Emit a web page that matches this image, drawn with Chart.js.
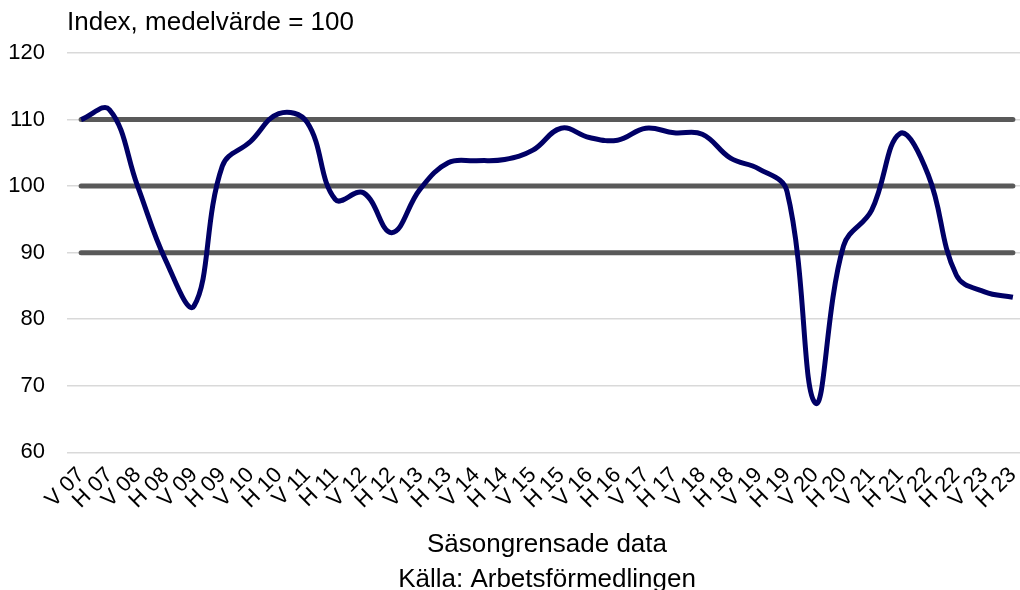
<!DOCTYPE html>
<html>
<head>
<meta charset="utf-8">
<script src="https://cdn.jsdelivr.net/npm/chart.js@4"></script>
<style>
  html, body { margin: 0; padding: 0; overflow: hidden; background: #fff; }
  #wrap { width: 1034px; height: 590px; }
</style>
</head>
<body>
<div id="wrap"><canvas id="myChart"></canvas></div>
<script>
// Data
var labels = ["V 07","H 07","V 08","H 08","V 09","H 09","V 10","H 10","V 11","H 11",
  "V 12","H 12","V 13","H 13","V 14","H 14","V 15","H 15","V 16","H 16",
  "V 17","H 17","V 18","H 18","V 19","H 19","V 20","H 20","V 21","H 21",
  "V 22","H 22","V 23","H 23"];
var indexValues = [110, 111.5, 100, 88.8, 82, 103, 106.7, 110.9, 109.6, 98,
  99, 93, 99.5, 103.5, 103.8, 104, 105.4, 108.7, 107.3, 106.9,
  108.7, 108, 107.8, 104.2, 102.6, 99.2, 67.4, 91, 96.4, 107.9,
  101.7, 86.6, 84.1, 83.3];
var refLevels = [110, 100, 90];
var yTicks = { min: 60, max: 120, step: 10 };
var topTitle = "Index, medelvärde = 100";
var axisTitle = ["Säsongrensade data", "Källa: Arbetsförmedlingen"];

var FONT = "'Liberation Sans', Arial, sans-serif";

var refSets = refLevels.map(function (lvl) {
  return {
    data: labels.map(function () { return lvl; }),
    borderColor: "#595959",
    borderWidth: 5,
    borderCapStyle: "round",
    pointRadius: 0,
    tension: 0,
    order: 2
  };
});

// title drawn at the left edge of the plot area
var topTitlePlugin = {
  id: "topTitle",
  afterDraw: function (chart) {
    var ctx = chart.ctx;
    ctx.save();
    ctx.font = "26px " + FONT;
    ctx.fillStyle = "#000";
    ctx.textBaseline = "middle";
    ctx.fillText(topTitle, chart.chartArea.left, 23);
    ctx.restore();
  }
};

new Chart("myChart", {
  type: "line",
  data: {
    labels: labels,
    datasets: refSets.concat([{
      data: indexValues,
      borderColor: "#000066",
      borderWidth: 5,
      pointRadius: 0,
      tension: 0.4,
      order: 1
    }])
  },
  plugins: [topTitlePlugin],
  options: {
    responsive: true,
    maintainAspectRatio: false,
    animation: false,
    layout: { padding: { top: 53, right: 7, left: 0, bottom: 0 } },
    plugins: {
      legend: { display: false },
      tooltip: { enabled: false }
    },
    scales: {
      x: {
        offset: true,
        grid: { display: false },
        border: { display: false },
        afterFit: function (scale) { scale.paddingLeft = 0; scale.paddingRight = 0; },
        ticks: {
          autoSkip: false,
          minRotation: 45,
          maxRotation: 45,
          color: "#000",
          padding: 2,
          font: { family: FONT, size: 22 }
        },
        title: {
          display: true,
          text: axisTitle,
          color: "#000",
          padding: { top: 11, bottom: -7 },
          font: { family: FONT, size: 26, lineHeight: 1.35 }
        }
      },
      y: {
        min: yTicks.min,
        max: yTicks.max,
        afterFit: function (scale) { scale.width = 67; },
        grid: { color: "#d9d9d9", lineWidth: 1.5, drawTicks: false },
        border: { display: false },
        ticks: {
          stepSize: yTicks.step,
          color: "#000",
          padding: 22,
          font: { family: FONT, size: 22 }
        }
      }
    }
  }
});
</script>
</body>
</html>
